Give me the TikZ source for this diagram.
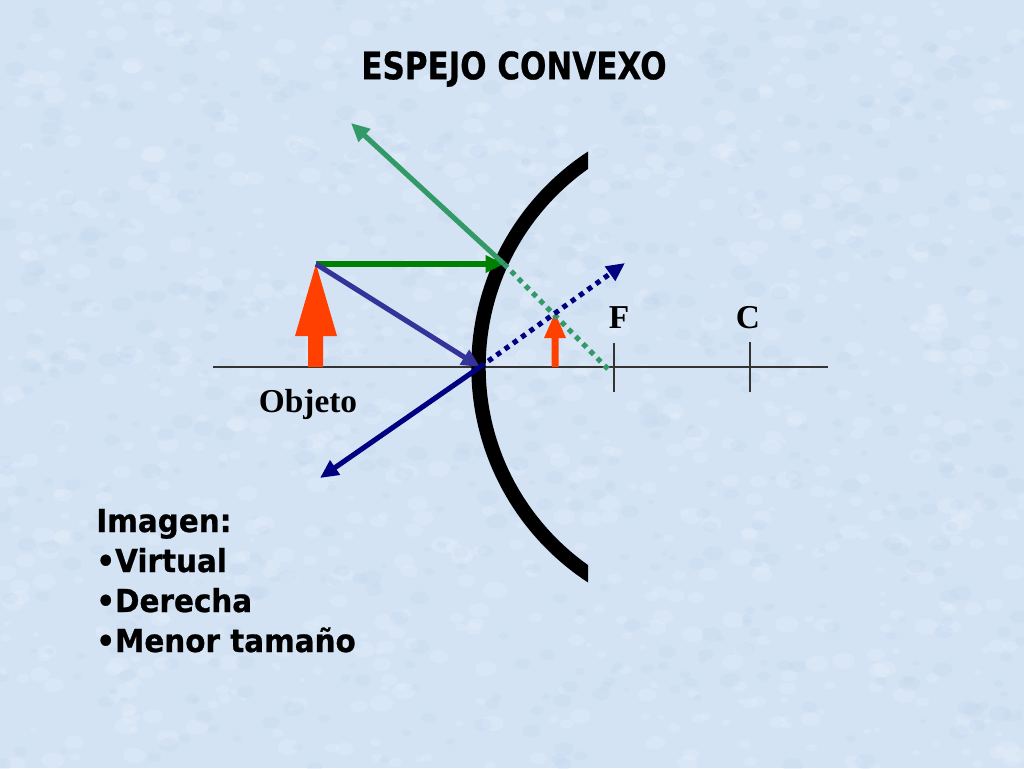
\documentclass[tikz,border=0pt]{standalone}
\usepackage{fontspec}
\usepackage{graphicx}
\usetikzlibrary{arrows.meta}
\newfontfamily\dv[BoldFeatures={FakeBold=0.8}]{DejaVu Sans}
\newfontfamily\tms{Liberation Serif}
\definecolor{bg}{RGB}{212,227,244}
\definecolor{bgdark}{RGB}{192,212,238}
\definecolor{objred}{RGB}{255,64,0}
\definecolor{rgreen}{RGB}{0,128,0}
\definecolor{sgreen}{RGB}{51,153,102}
\definecolor{iblue}{RGB}{51,51,153}
\definecolor{nblue}{RGB}{0,0,128}
\begin{document}
\begin{tikzpicture}[x=0.02cm,y=-0.02cm,
  ray/.style={line width=2.9pt},
  tipa/.style={-{Triangle[length=10.5pt,width=9.5pt]}},
  dots/.style={line width=2.9pt,dash pattern=on 2.9pt off 2.9pt},
  axisline/.style={line width=0.9pt,draw=black!80},
  lbl/.style={font=\tms\bfseries\fontsize{19}{22}\selectfont,inner sep=0pt},
  txt/.style={font=\dv\bfseries\fontsize{18}{22}\selectfont,inner sep=0pt,anchor=base west}]
\useasboundingbox (0,0) rectangle (1024,768);
% background
\begin{scope}
\clip (0,0) rectangle (1024,768);
\fill[bg] (0,0) rectangle (1024,768);
\pgfmathsetseed{11}
\foreach \i in {1,...,900}{
  \pgfmathsetmacro\xx{rnd*1024}
  \pgfmathsetmacro\yy{rnd*768}
  \pgfmathsetmacro\rr{3+rnd*9}
  \fill[white,opacity=0.12] (\xx,\yy) ellipse [x radius=\rr, y radius=0.7*\rr];
}
\foreach \i in {1,...,700}{
  \pgfmathsetmacro\xx{rnd*1024}
  \pgfmathsetmacro\yy{rnd*768}
  \pgfmathsetmacro\rr{3+rnd*8}
  \fill[bgdark,opacity=0.25] (\xx,\yy) ellipse [x radius=\rr, y radius=0.7*\rr];
}
\end{scope}
% coordinates
\coordinate (A1) at (213,367);
\coordinate (A2) at (828,367);
\coordinate (Ft) at (614,343);
\coordinate (Fb) at (614,392);
\coordinate (Ct) at (750,342);
\coordinate (Cb) at (750,392);
\coordinate (T) at (316,264);
\coordinate (H) at (504,264);
\coordinate (G2) at (351,123);
\coordinate (GD) at (610,371);
\coordinate (V) at (480,367);
\coordinate (B2) at (320,478);
\coordinate (BD) at (625,263);
% axis and ticks
\draw[axisline] (A1) -- (A2);
\draw[axisline] (Ft) -- (Fb);
\draw[axisline] (Ct) -- (Cb);
% mirror
\begin{scope}
  \clip (0,0) rectangle (588,768);
  \draw[line width=8.2pt] (728.5,367) circle [radius=250];
\end{scope}
% object and image
\fill[objred] (308,367) -- (308,336) -- (295,336) -- (T) -- (337,336) -- (323,336) -- (323,367) -- cycle;
\fill[objred] (551.5,367) -- (551.5,338) -- (544,338) -- (555,313) -- (566,338) -- (558.5,338) -- (558.5,367) -- cycle;
% rays
\draw[dots,sgreen] (H) -- (GD);
\draw[dots,nblue,tipa] (V) -- (BD);
\draw[ray,rgreen,tipa] (T) -- (H);
\draw[ray,sgreen,tipa] (H) -- (G2);
\draw[ray,iblue,tipa] (T) -- (V);
\draw[ray,nblue,tipa] (V) -- (B2);
% labels
\node[lbl] (lF) at (619,318) {F};
\node[lbl] (lC) at (748,318) {C};
\node[lbl] (lO) at (308,404) {Objeto};
\node[font=\dv\bfseries\fontsize{21.5}{25}\selectfont,inner sep=0pt] (title) at (514,69) {\scalebox{0.82}[1]{ESPEJO CONVEXO}};
\node[txt] (l1) at (96,532) {\scalebox{0.93}[1]{Imagen:}};
\node[txt] (l2) at (96,572) {\scalebox{0.93}[1]{•Virtual}};
\node[txt] (l3) at (96,612) {\scalebox{0.93}[1]{•Derecha}};
\node[txt] (l4) at (96,652) {\scalebox{0.93}[1]{•Menor tamaño}};
\end{tikzpicture}
\end{document}
